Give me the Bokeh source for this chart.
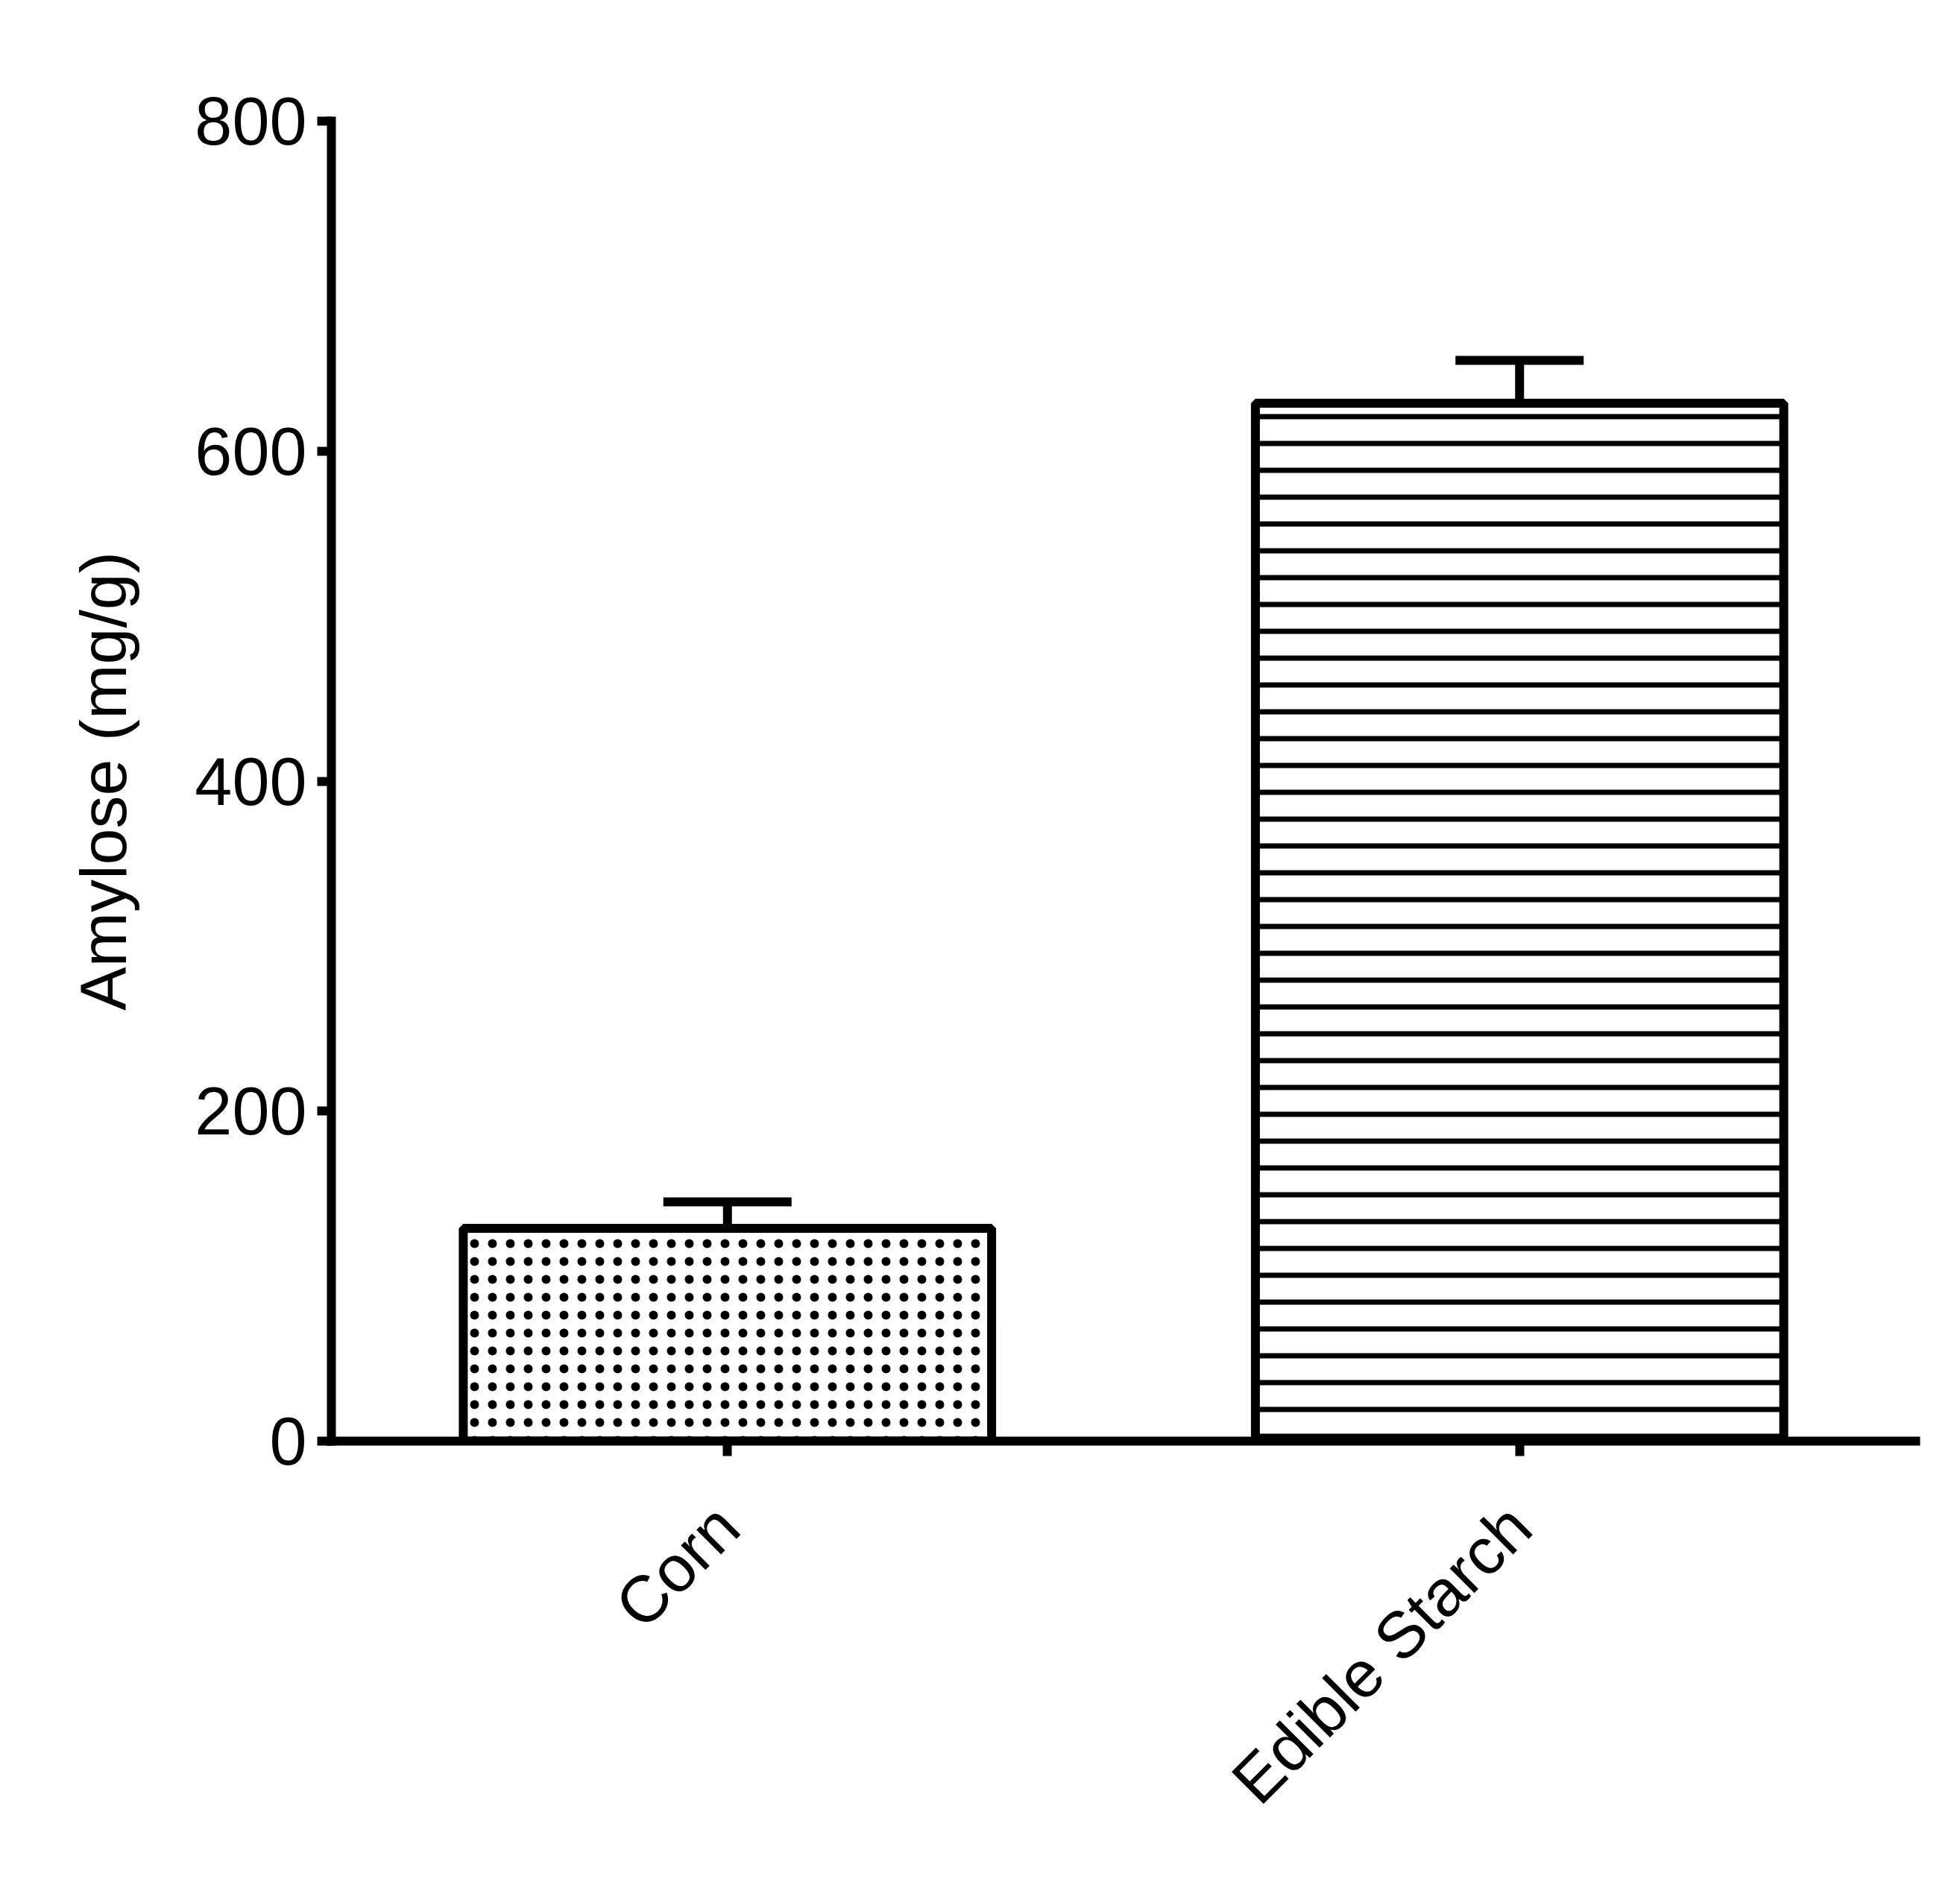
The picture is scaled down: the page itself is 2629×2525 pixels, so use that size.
import math
from bokeh.plotting import figure
from bokeh.models import (ColumnDataSource, FactorRange, Range1d, FixedTicker,
                          Whisker, TeeHead)
from bokeh.embed import file_html
from bokeh.resources import INLINE

# ---- data ----
categories = ["Corn", "Edible Starch"]
values = [129, 629]
errors = [16, 26]
y_ticks = [0, 200, 400, 600, 800]
y_label = "Amylose (mg/g)"

upper = [v + e for v, e in zip(values, errors)]
src = ColumnDataSource(dict(cat=categories, value=values, upper=upper))

FONT = "Liberation Sans"
LW = 12

p = figure(width=2600, height=2500, x_range=FactorRange(factors=categories),
           y_range=Range1d(0, 800), output_backend="svg", toolbar_location=None,
           min_border_left=444, min_border_right=31, min_border_top=162,
           min_border_bottom=567)
p.outline_line_color = None
p.xgrid.visible = False
p.ygrid.visible = False
p.background_fill_color = "white"
p.border_fill_color = "white"

# Corn bar (stipple)
p.vbar(x=[categories[0]], top=[values[0]], width=0.667, bottom=0,
       fill_color="white", line_color="black", line_width=LW,
       hatch_pattern="dot", hatch_color="black", hatch_scale=24, hatch_weight=1)
# Edible Starch bar (horizontal lines)
p.vbar(x=[categories[1]], top=[values[1]], width=0.667, bottom=0,
       fill_color="white", line_color="black", line_width=LW,
       hatch_pattern="horizontal_line", hatch_color="black", hatch_scale=36,
       hatch_weight=7)

w = Whisker(source=src, base="cat", lower="value", upper="upper",
            dimension="height", line_width=LW, line_color="black",
            upper_head=TeeHead(size=172, line_width=LW, line_color="black"),
            lower_head=None)
p.add_layout(w)

# axes
for ax in (p.xaxis[0], p.yaxis[0]):
    ax.axis_line_width = LW
    ax.axis_line_color = "black"
    ax.axis_line_cap = "square"
    ax.major_tick_line_width = LW
    ax.major_tick_line_color = "black"
    ax.major_tick_in = 0
    ax.major_tick_out = 19
    ax.minor_tick_line_color = None
    ax.major_label_text_font = FONT
    ax.major_label_text_color = "black"

p.yaxis.ticker = FixedTicker(ticks=y_ticks)
p.yaxis.major_label_text_font_size = "90px"
p.yaxis.major_label_standoff = 14
p.yaxis.axis_label = y_label
p.yaxis.axis_label_text_font = FONT
p.yaxis.axis_label_text_font_size = "88px"
p.yaxis.axis_label_text_font_style = "normal"
p.yaxis.axis_label_text_color = "black"
p.yaxis.axis_label_standoff = 70

p.xaxis.major_tick_out = 20
p.xaxis.major_label_orientation = math.pi / 4
p.xaxis.major_label_text_font_size = "88px"
p.xaxis.major_label_standoff = 80

open("out.html", "w").write(file_html(p, INLINE))
